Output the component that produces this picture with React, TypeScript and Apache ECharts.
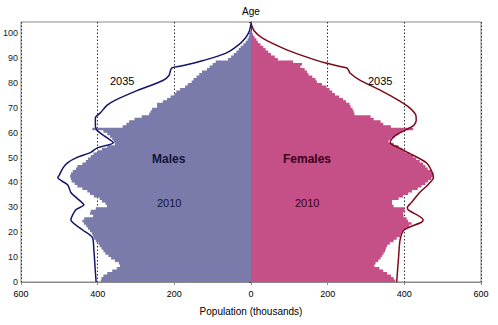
import React, { useEffect, useRef } from "react";
import * as echarts from "echarts";

// Age categories 0..100 (single years)
const ages: number[] = Array.from({ length: 101 }, (_, i) => i);

// 2010 population by single year of age, thousands
const males2010: number[] = [
  392, 390, 385, 375, 362, 350, 342, 345, 355, 365,
  372, 380, 385, 390, 395, 398, 405, 410, 412, 415,
  420, 425, 430, 436, 440, 435, 412, 420, 418, 405,
  376, 380, 389, 395, 410, 420, 427, 440, 453, 460,
  468, 470, 472, 470, 465, 457, 453, 440, 431, 425,
  418, 411, 400, 389, 375, 355, 358, 362, 368, 375,
  385, 414, 335, 325, 318, 304, 285, 266, 262, 258,
  245, 245, 230, 219, 210, 200, 195, 185, 172, 165,
  155, 150, 142, 135, 128, 115, 108, 100, 92, 60,
  52, 45, 38, 32, 27, 20, 14, 9, 6, 4,
  3,
];

const females2010: number[] = [
  376, 372, 365, 355, 345, 335, 322, 325, 332, 338,
  342, 346, 350, 352, 355, 362, 372, 380, 389, 393,
  397, 405, 412, 419, 410, 406, 398, 397, 402, 400,
  372, 368, 368, 385, 397, 410, 420, 435, 445, 455,
  462, 470, 474, 476, 470, 461, 455, 449, 440, 431,
  423, 414, 402, 395, 385, 372, 359, 365, 375, 385,
  395, 423, 365, 345, 338, 320, 312, 270, 268, 265,
  260, 257, 248, 240, 230, 219, 212, 205, 197, 185,
  172, 168, 160, 150, 146, 140, 129, 133, 110, 70,
  62, 52, 45, 38, 32, 25, 18, 14, 9, 5,
  3,
];

// 2035 projection, read at [age, thousands]
const males2035: [number, number][] = [
  [0, 404], [4, 406], [13, 410], [18, 414], [21, 440], [25, 470], [29, 457],
  [31, 436], [33, 449], [36, 470], [39, 478], [42, 504], [43, 500], [46, 490],
  [48, 478], [50, 455], [52, 419], [54, 400], [56, 359], [58, 376], [61, 402],
  [63, 406], [66, 406], [68, 393], [71, 376], [73, 355], [77, 296], [81, 230],
  [83, 214], [86, 207], [87, 176], [89, 125], [92, 65], [95, 35], [98, 15],
  [101, 4], [104, 0],
];

const females2035: [number, number][] = [
  [0, 380], [10, 385], [17, 389], [21, 400], [24, 445], [25, 449], [29, 410],
  [30, 408], [32, 419], [36, 440], [39, 461], [42, 476], [45, 470], [48, 457],
  [52, 410], [54, 385], [56, 363], [58, 370], [60, 389], [62, 415], [63, 425],
  [65, 431], [67, 430], [70, 414], [73, 385], [77, 338], [81, 285], [84, 258],
  [85, 255], [86, 250], [88, 195], [91, 134], [94, 83], [98, 30], [101, 8],
  [104, 0],
];

const xTicks = { min: -600, max: 600, interval: 200 };
const yTicks = { min: 0, max: 104.5, interval: 10 };

const MALE_FILL = "#7a7aab";
const FEMALE_FILL = "#c54f87";
const MALE_LINE = "#14146a";
const FEMALE_LINE = "#7a0a1a";

// Each side's 2010 bars drawn as one stepped shape (one bar per single year),
// every corner placed through the cartesian scale (api.coord).
function barSeries(name: string, data: number[][], color: string) {
  return {
    name,
    type: "custom",
    data,
    z: 2,
    renderItem: (params: any, api: any) => {
      if (params.dataIndexInside !== 0) return null;
      const n = params.dataInsideLength;
      const pts: number[][] = [];
      pts.push(api.coord([0, api.value(1, 0)]));
      for (let i = 0; i < n; i++) {
        const v = api.value(0, i);
        const age = api.value(1, i);
        pts.push(api.coord([v, age]));
        pts.push(api.coord([v, age + 1]));
      }
      pts.push(api.coord([0, api.value(1, n - 1) + 1]));
      return {
        type: "polygon",
        shape: { points: pts },
        style: { fill: color },
      };
    },
  };
}

export default function App() {
  const ref = useRef<HTMLDivElement>(null);
  useEffect(() => {
    if (!ref.current) return;
    const chart = echarts.init(ref.current, null, { renderer: "svg" });
    const maleBars = ages.map((a, i) => [-males2010[i], a]);
    const femaleBars = ages.map((a, i) => [females2010[i], a]);
    const font = "Liberation Sans, Arial, sans-serif";
    chart.setOption({
      animation: false,
      backgroundColor: "#ffffff",
      grid: {
        left: 14,
        right: 17,
        top: 22,
        bottom: 43,
        show: true,
        borderColor: "#8a8a8a",
        borderWidth: 1,
      },
      xAxis: {
        type: "value",
        min: xTicks.min,
        max: xTicks.max,
        interval: xTicks.interval,
        name: "Population (thousands)",
        nameLocation: "middle",
        nameGap: 24,
        nameTextStyle: { fontFamily: font, fontSize: 10, color: "#000" },
        axisLine: { lineStyle: { color: "#8a8a8a" } },
        axisTick: { show: true, length: 3, lineStyle: { color: "#8a8a8a" } },
        axisLabel: {
          fontFamily: font,
          fontSize: 9,
          color: "#000",
          margin: 7,
          formatter: (v: number) => String(Math.abs(v)),
        },
        splitLine: {
          show: true,
          lineStyle: { type: [1.5, 2], color: "#333", width: 1 },
        },
      },
      yAxis: {
        type: "value",
        min: yTicks.min,
        max: yTicks.max,
        interval: yTicks.interval,
        name: "Age",
        nameLocation: "end",
        nameGap: 6,
        nameTextStyle: { fontFamily: font, fontSize: 10, color: "#000", align: "center" },
        axisLine: { show: true, onZero: true, lineStyle: { color: "#444", width: 1 } },
        axisTick: { show: true, length: 2, lineStyle: { color: "#444" } },
        axisLabel: {
          fontFamily: font,
          fontSize: 9,
          color: "#222",
          margin: 3,
          formatter: (v: number) => (v <= 100 ? String(v) : ""),
        },
        splitLine: { show: false },
      },
      series: [
        barSeries("Males 2010", maleBars, MALE_FILL),
        barSeries("Females 2010", femaleBars, FEMALE_FILL),
        {
          name: "Males 2035",
          type: "line",
          data: males2035.map(([a, v]) => [-v, a]),
          showSymbol: false,
          smooth: 0.25,
          z: 5,
          lineStyle: { color: MALE_LINE, width: 1.5 },
        },
        {
          name: "Females 2035",
          type: "line",
          data: females2035.map(([a, v]) => [v, a]),
          showSymbol: false,
          smooth: 0.25,
          z: 5,
          lineStyle: { color: FEMALE_LINE, width: 1.5 },
        },
      ],
      graphic: [
        { type: "text", z: 100, left: 110, top: 75, style: { text: "2035", font: `11px ${font}`, fill: "#000" } },
        { type: "text", z: 100, left: 368, top: 75, style: { text: "2035", font: `11px ${font}`, fill: "#000" } },
        { type: "text", z: 100, left: 152, top: 153, style: { text: "Males", font: `bold 12px ${font}`, fill: "#14143a" } },
        { type: "text", z: 100, left: 283, top: 153, style: { text: "Females", font: `bold 12px ${font}`, fill: "#3a0018" } },
        { type: "text", z: 100, left: 157, top: 197, style: { text: "2010", font: `11px ${font}`, fill: "#14143a" } },
        { type: "text", z: 100, left: 295, top: 197, style: { text: "2010", font: `11px ${font}`, fill: "#3a0018" } },
      ],
    });
    return () => chart.dispose();
  }, []);
  return (
    <div
      ref={ref}
      style={{ position: "fixed", left: 0, top: 0, width: 498, height: 325 }}
    />
  );
}
